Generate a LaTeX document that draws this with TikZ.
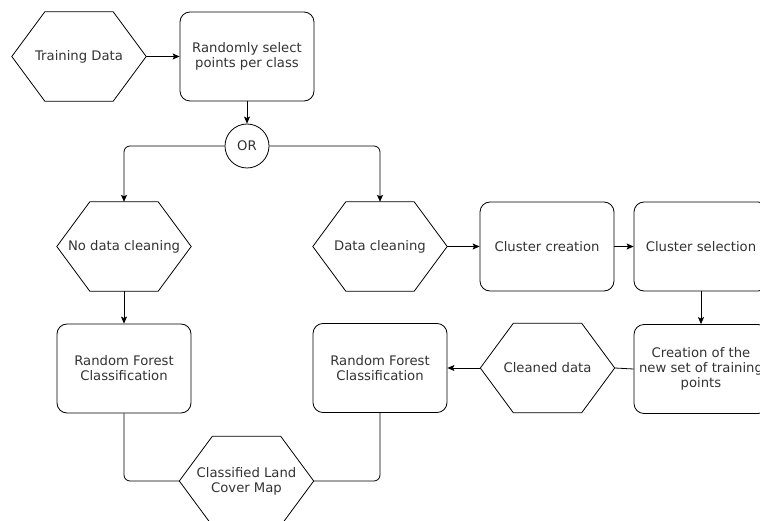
\documentclass[tikz,border=0pt]{standalone}
\usepackage{fontspec}
\setmainfont{DejaVu Sans}
\usetikzlibrary{arrows.meta}
\definecolor{ink}{HTML}{000000}
\definecolor{txt}{HTML}{333333}
\tikzset{
  base/.style={minimum width=134pt, minimum height=89pt, inner sep=0pt, align=center,
    text=txt, font=\fontsize{13.2pt}{15pt}\selectfont},
  rbox/.style={base, draw=ink, line width=0.8pt, rounded corners=10pt},
  hexnode/.style={base},
  orcirc/.style={circle, draw=ink, line width=0.8pt, minimum size=44pt, inner sep=0pt,
    text=txt, font=\fontsize{13.2pt}{15pt}\selectfont},
  conn/.style={draw=ink, line width=0.8pt, -{Stealth[length=7pt,width=6pt,inset=1.5pt]}, rounded corners=6pt},
  plain/.style={draw=ink, line width=0.8pt, rounded corners=6pt},
  hexline/.style={draw=ink, line width=0.8pt}
}
\newcommand\hexdraw[1]{\draw[hexline] (#1.west) -- ([xshift=33pt]#1.north west) -- ([xshift=-33pt]#1.north east) -- (#1.east) -- ([xshift=-33pt]#1.south east) -- ([xshift=33pt]#1.south west) -- cycle;}
\begin{document}
\begin{tikzpicture}[x=1pt,y=-1pt]
\useasboundingbox (0,0) rectangle (760,521);
\fill[white] (0,0) rectangle (760,521);
\clip (0,0) rectangle (760,521);

\node[hexnode] (train) at (79,56.5) {Training Data};
\node[rbox] (rand) at (247,56.5) {Randomly select\\points per class};
\node[orcirc] (or) at (247,146) {OR};
\node[hexnode] (nodc) at (124,246.5) {No data cleaning};
\node[hexnode] (dc) at (380,246.5) {Data cleaning};
\node[rbox] (cc) at (547,246.5) {Cluster creation};
\node[rbox] (cs) at (701,246.5) {Cluster selection};
\node[rbox] (rf1) at (124,368.5) {Random Forest\\Classification};
\node[rbox] (rf2) at (380,368) {Random Forest\\Classification};
\node[hexnode] (cd) at (547.5,368) {Cleaned data};
\node[rbox] (cnew) at (701,369) {Creation of the\\new set of training\\points};
\node[hexnode] (clc) at (246.5,481) {Classified Land\\Cover Map};

\hexdraw{train}
\hexdraw{nodc}
\hexdraw{dc}
\hexdraw{cd}
\hexdraw{clc}

\draw[conn] (train.east) -- (rand.west);
\draw[conn] (rand.south) -- (or.north);
\draw[conn] (or.west) -| (nodc.north);
\draw[conn] (or.east) -| (dc.north);
\draw[conn] (nodc.south) -- (rf1.north);
\draw[conn] (dc.east) -- (cc.west);
\draw[conn] (cc.east) -- (cs.west);
\draw[conn] (cs.south) -- (cnew.north);
\draw[plain] (cnew.west) -- (cd.east);
\draw[conn] (cd.west) -- (rf2.east);
\draw[plain] (rf1.south) |- (clc.west);
\draw[plain] (rf2.south) |- (clc.east);
\end{tikzpicture}
\end{document}
